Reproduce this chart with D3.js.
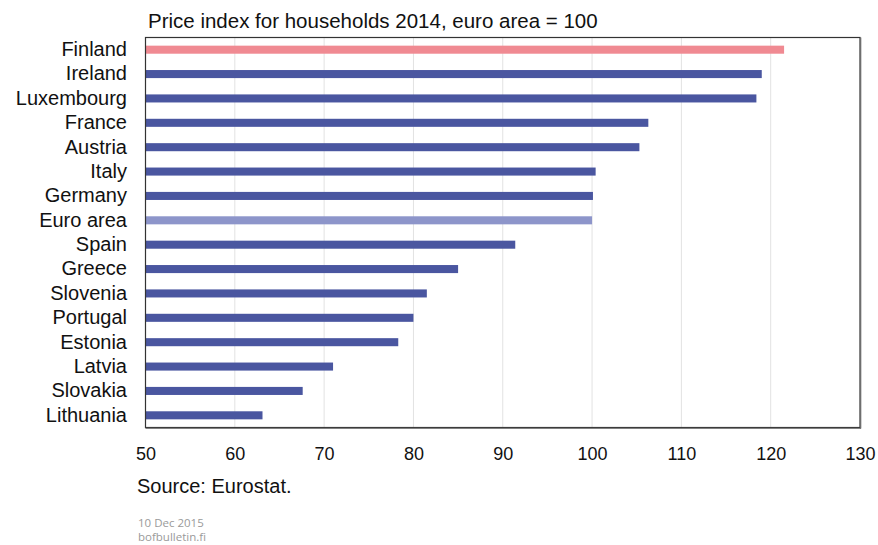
<!DOCTYPE html>
<html><head><meta charset="utf-8">
<script src="https://cdn.jsdelivr.net/npm/d3@7"></script>
<style>body{margin:0;background:#fff}svg{display:block}</style>
</head><body>
<svg id="c" width="878" height="545"></svg>
<script>
const categories = ["Finland","Ireland","Luxembourg","France","Austria","Italy","Germany","Euro area","Spain","Greece","Slovenia","Portugal","Estonia","Latvia","Slovakia","Lithuania"];
const values = [121.5,119.0,118.4,106.3,105.3,100.4,100.1,100.0,91.4,85.0,81.5,80.0,78.3,71.0,67.6,63.1];
const xTicks = [50,60,70,80,90,100,110,120,130];
const titleText = "Price index for households 2014, euro area = 100";
const sourceText = "Source: Eurostat.";
const footer = ["10 Dec 2015","bofbulletin.fi"];

const svg = d3.select("#c");
const m = {l:145.5, r:860, t:37.5, b:427.5};
const x = d3.scaleLinear().domain([50,130]).range([m.l, m.r]);
const y = d3.scaleBand().domain(categories).range([m.t, m.b]).paddingInner(0.67).paddingOuter(0.335);
const font = "Liberation Sans, Arial, sans-serif";

// gridlines
svg.append("g").selectAll("line").data(xTicks.slice(1,-1)).join("line")
  .attr("x1", d=>x(d)).attr("x2", d=>x(d)).attr("y1", m.t).attr("y2", m.b)
  .attr("stroke", "#e2e2e2").attr("stroke-width", 1);

// bars
svg.append("g").selectAll("rect").data(categories).join("rect")
  .attr("x", x(50)).attr("y", d=>y(d))
  .attr("width", (d,i)=>x(values[i]) - x(50))
  .attr("height", y.bandwidth())
  .attr("fill", d=> d==="Finland" ? "#f08a92" : d==="Euro area" ? "#8d95ca" : "#4a56a0");

// frame
svg.append("rect").attr("x", m.l).attr("y", m.t).attr("width", m.r-m.l).attr("height", m.b-m.t)
  .attr("fill","none").attr("stroke","#333").attr("stroke-width",1.2);
svg.append("line").attr("x1", m.r+0.8).attr("x2", m.r+0.8).attr("y1", m.t).attr("y2", m.b+1)
  .attr("stroke","#666").attr("stroke-width",1);
svg.append("line").attr("x1", m.l).attr("x2", m.r+1).attr("y1", m.b+0.8).attr("y2", m.b+0.8)
  .attr("stroke","#666").attr("stroke-width",1);

// category labels
const yAxis = d3.axisLeft(y).tickSize(0).tickPadding(18.5);
const ya = svg.append("g").attr("transform", `translate(${m.l},0)`).call(yAxis);
ya.select(".domain").remove();
ya.selectAll("text").attr("font-family", font).attr("font-size", 20).attr("fill", "#111");

// x axis labels
const xAxis = d3.axisBottom(x).tickValues(xTicks).tickSize(0).tickPadding(19.5);
const xa = svg.append("g").attr("transform", `translate(0,${m.b})`).call(xAxis);
xa.select(".domain").remove();
xa.selectAll("text").attr("font-family", font).attr("font-size", 18).attr("fill", "#111");

svg.append("text").attr("x", 148).attr("y", 28).text(titleText)
  .attr("font-family", font).attr("font-size", 20.5).attr("fill", "#111");
svg.append("text").attr("x", 137).attr("y", 493).text(sourceText)
  .attr("font-family", font).attr("font-size", 20).attr("fill", "#111");
svg.append("g").selectAll("text").data(footer).join("text")
  .attr("x", 138).attr("y", (d,i)=>527 + i*14).text(d=>d)
  .attr("font-family", "Open Sans, sans-serif").attr("font-size", 11.5).attr("fill", "#9a9a9a");
</script>
</body></html>
